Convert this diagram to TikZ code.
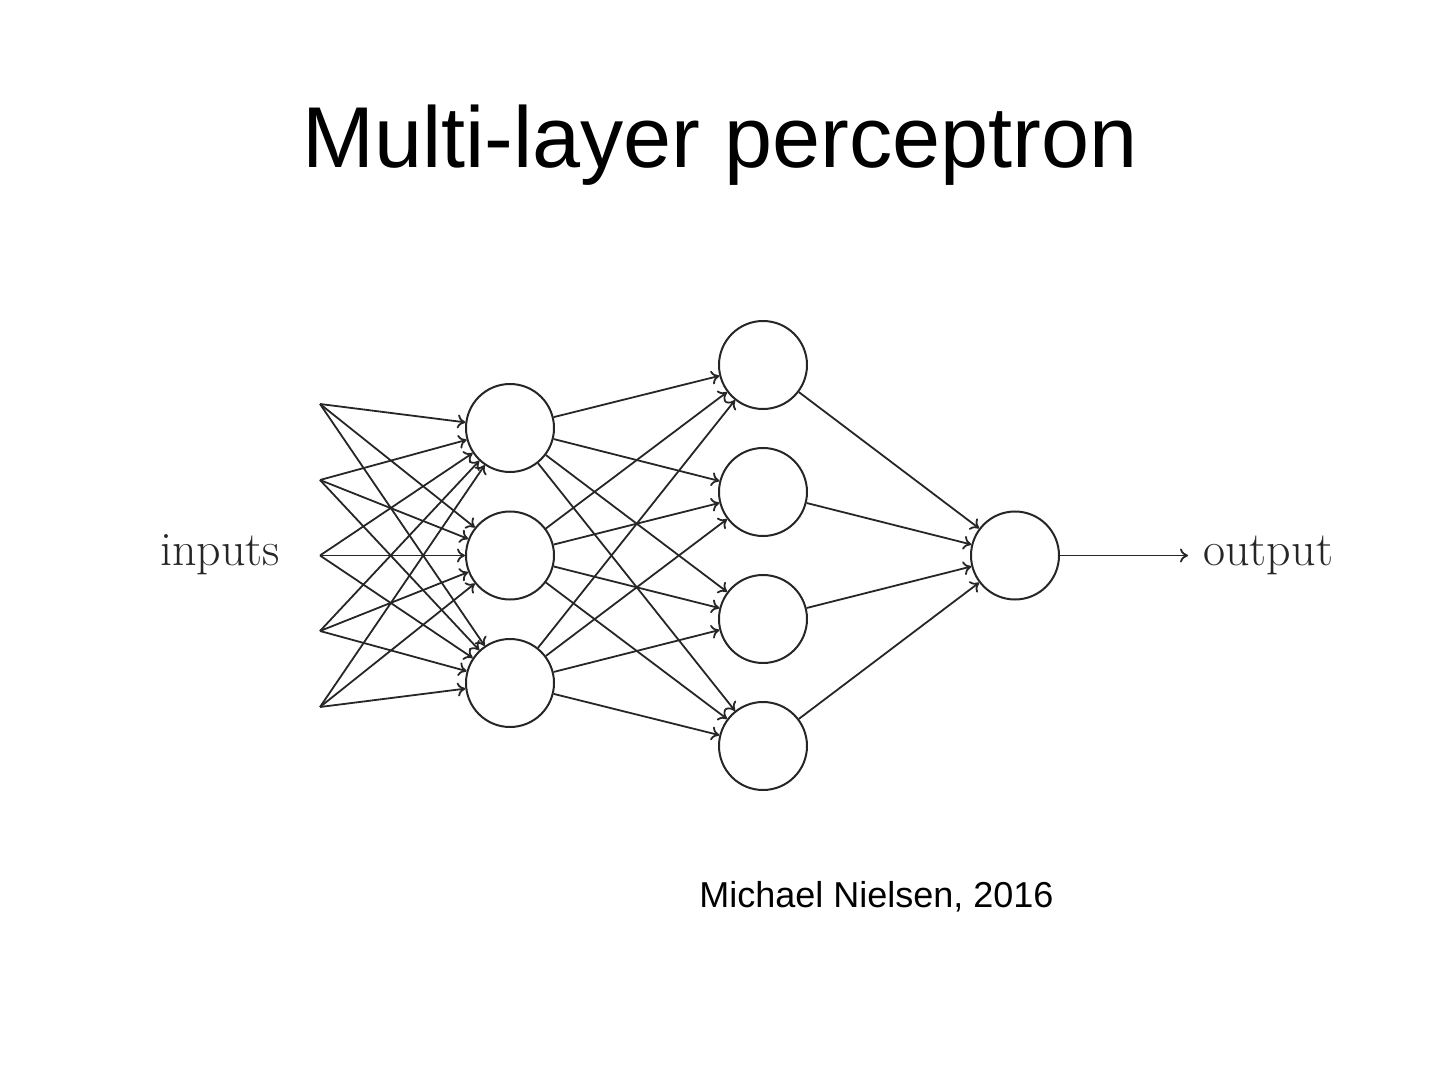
\documentclass[tikz,border=0pt]{standalone}
\usepackage{fontspec}
\usetikzlibrary{arrows.meta}
\newfontfamily\slidefont{Liberation Sans}
\definecolor{ink}{gray}{0.15}
\tikzset{
  neuron/.style={circle, draw=ink, line width=1pt, minimum size=44pt, inner sep=0pt},
  conn/.style={draw=ink, line width=0.9pt, -{To[length=4pt,width=7pt]}},
  lbl/.style={inner sep=0pt, anchor=base west, text=ink, font=\fontsize{24pt}{27pt}\selectfont},
}
\begin{document}
\begin{tikzpicture}[x=0.5pt, y=-0.5pt]
\useasboundingbox (0,0) rectangle (1440,1080);
% title
\node[inner sep=0pt, anchor=base, font=\slidefont\fontsize{43.2pt}{50pt}\selectfont] (title) at (720,168) {Multi-layer perceptron};
% inputs
\coordinate (i1) at (320,404);
\coordinate (i2) at (320,480);
\coordinate (i3) at (320,555.5);
\coordinate (i4) at (320,631);
\coordinate (i5) at (320,707);
% hidden 1
\node[neuron] (h1) at (510,428) {};
\node[neuron] (h2) at (510,555.5) {};
\node[neuron] (h3) at (510,683) {};
% hidden 2
\node[neuron] (g1) at (763,365) {};
\node[neuron] (g2) at (763,492) {};
\node[neuron] (g3) at (763,619) {};
\node[neuron] (g4) at (763,746) {};
% output
\node[neuron] (o) at (1015,555.5) {};
\coordinate (oend) at (1188,555.5);
% labels
\node[lbl] (inlbl) at (160,565) {inputs};
\node[lbl] (outlbl) at (1203,565) {output};
% connections
\foreach \a in {i1,i2,i3,i4,i5}
  \foreach \b in {h1,h2,h3}
    \draw[conn] (\a) -- (\b);
\foreach \a in {h1,h2,h3}
  \foreach \b in {g1,g2,g3,g4}
    \draw[conn] (\a) -- (\b);
\foreach \a in {g1,g2,g3,g4}
  \draw[conn] (\a) -- (o);
\draw[conn] (o) -- (oend);
% footer
\node[inner sep=0pt, anchor=base, font=\slidefont\fontsize{18pt}{21pt}\selectfont] (credit) at (876.5,907) {Michael Nielsen, 2016};
\end{tikzpicture}
\end{document}
